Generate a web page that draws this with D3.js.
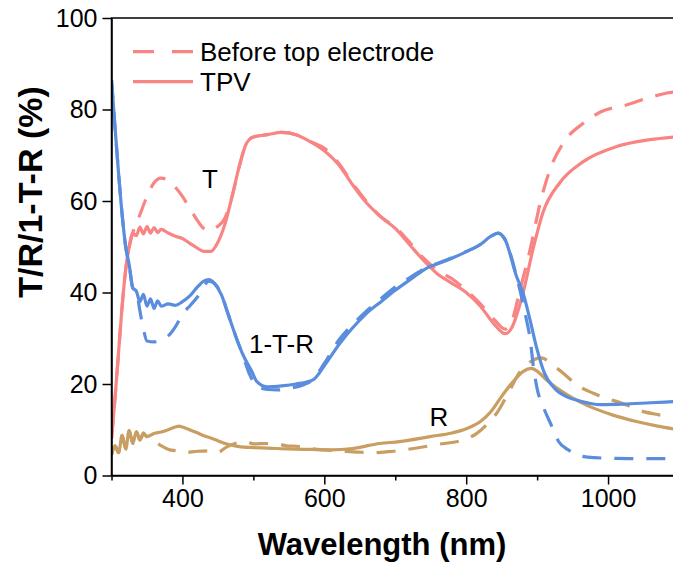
<!DOCTYPE html>
<html>
<head>
<meta charset="utf-8">
<script src="https://cdn.jsdelivr.net/npm/d3@7"></script>
<style>
  html, body { margin: 0; padding: 0; background: #fff; }
  svg { display: block; font-family: Arial, "Liberation Sans", sans-serif; }
</style>
</head>
<body>
<svg id="chart" width="673" height="566"></svg>
<script>
// ---------- data ----------
const seriesNames = ["Before top electrode", "TPV"];
const curveLabels = ["T", "1-T-R", "R"];
const xTickLabels = [400, 600, 800, 1000];
const xMinorTicks = [300, 500, 700, 900];
const yTickLabels = [0, 20, 40, 60, 80, 100];

// Transmittance, TPV (solid)
const wlT_tpv = [300,305,310,315,320,325,330,335,340,345,350,355,360,365,370,380,390,400,410,420,430,440,450,460,470,480,490,500,520,540,560,580,600,620,640,660,680,700,720,740,760,780,800,820,840,855,865,875,880,895,908,932,965,1012,1059,1100];
const T_tpv   = [8,17,27,37,45,50,53,52.4,54.3,52.8,54.4,53,54.2,53.1,53.8,53,52.3,51.8,50.8,49.8,49,49,51,55,61,67.5,72.5,74,74.5,75,74.5,73,71,68,63.5,59.5,56.5,54,50.5,47,44,42,40,37,33,31,32.5,37,39.8,50,57.4,64,68.6,71.9,73.4,74.1];
// Transmittance, before top electrode (dashed)
const wlT_bef = [300,305,310,315,320,325,330,340,350,360,370,380,390,400,410,420,430,440,450,460,470,480,490,500,520,540,560,580,600,620,640,660,680,700,720,740,760,780,800,820,840,855,865,875,890,905,918,937,965,990,1026,1060,1083,1100];
const T_bef   = [8,17,27,37,45,50,53,57,61,64,65,64.5,63,61,58.5,56,54,53.5,54.5,56.3,61,67.5,72.5,74,74.5,75,74.5,73,71.5,68.3,63.8,59.8,56.5,54.3,51,47.5,44.8,43,40.5,37.5,34,32,34,40,49.3,60,66.8,72.7,77,79.5,81,82.7,83.6,84];

// 1-T-R, TPV (solid)
const wlA_tpv = [300,305,310,315,320,325,330,335,340,345,350,355,360,365,370,380,390,400,410,420,430,437,445,455,465,475,485,497,505,519,540,560,584,600,622,640,660,680,700,720,749,760,780,796,820,835,845,855,871,880,890,900,910,925,942,960,990,1020,1060,1100];
const A_tpv   = [86.5,76,66,57,50,46,41,40.3,38,39.6,37,38.6,36.5,38.2,37,37.5,37.2,38,39.2,41,42.5,42.8,42,39.5,35,30.5,26.5,23,20.5,19.4,19.6,20,20.9,24,28.9,32.3,35.5,38,40.5,42.7,45.7,46.3,47.5,48.6,50.5,52.3,53,51.5,43.5,40,34,27.5,22.5,19,17.2,16.3,15.5,15.6,15.9,16.2];
// 1-T-R, before top electrode (dashed)
const wlA_bef = [300,305,310,315,320,325,330,335,340,345,350,360,370,380,390,401,410,425,437,445,455,465,475,485,495,505,520,533,552,570,584,600,620,640,660,680,700,720,749,760,780,796,820,835,845,855,871,885,890,895,900,910,920,930,945,960,980,1030,1100];
const A_bef   = [86.5,76,66,57,50,46,41,40.3,36,32,29.4,29.2,29.5,30.5,32.5,35.5,37,39.8,42.5,42,39.5,35,30.5,26.3,22,19.5,18.8,18.7,19.1,19.8,21,24.5,29.5,33,36,38.7,41.2,43.2,45.8,46.4,47.6,48.7,50.5,52.3,53,51.5,43.5,34,30,23.5,19,14.5,11,7.5,5.5,4.3,3.9,3.7,3.7];

// Reflectance, TPV (solid)
const wlR_tpv = [300,305,310,315,320,325,330,335,340,345,350,360,370,380,390,395,400,410,420,430,440,450,460,470,480,500,520,550,580,610,640,678,706,749,780,800,820,835,850,865,880,892,900,913,930,960,985,1007,1040,1070,1100];
const R_tpv   = [4.5,6.5,5,8.8,5.8,9.8,7,9.6,7.8,9.3,8.5,9.2,9.5,10,10.6,10.8,10.6,10,9.4,8.7,8.2,7.6,7,6.6,6.3,6.1,6,5.8,5.7,5.6,5.9,7,7.4,8.5,9.3,10.2,11.8,14,17.3,20.3,22.7,23.4,22.8,20.9,18.9,16.1,14.4,13.2,11.8,10.8,10];
// Reflectance, before top electrode (dashed)
const wlR_bef = [300,305,310,315,320,325,330,335,340,345,350,357,368,382,392,401,422,439,449,462,476,490,500,520,533,547,561,580,600,620,650,669,690,726,760,796,815,830,843,860,875,880,890,905,930,960,985,1026,1043,1073,1100];
const R_bef   = [4.5,6.5,5,8.8,5.8,9.8,7,9.6,7.8,9,8.5,7.8,6.7,5.6,5.4,5.0,5.3,5.4,5.0,6.2,7.1,7.4,6.9,7,6.9,6.5,6.4,5.9,5.6,5.4,5.1,5.0,5.2,5.9,6.8,7.8,9.2,11.3,13.6,18.2,22.5,23.5,24.8,25.7,23.2,19.4,17.6,15.4,14.3,13.2,12.4];

// ---------- drawing ----------
const svg = d3.select("#chart");
const x = d3.scaleLinear().domain([300, 1100]).range([111.5, 679]);
const y = d3.scaleLinear().domain([0, 100]).range([475.5, 18]);

const pink = "#F88484", blue = "#5B8DDE", tan = "#C89E62";
const dash = "19,13";

svg.append("defs").append("clipPath").attr("id", "clip")
  .append("rect").attr("x", x(300)).attr("y", y(100)).attr("width", x(1100) - x(300)).attr("height", y(0) - y(100));

const line = d3.line().x(d => x(d[0])).y(d => y(d[1])).curve(d3.curveMonotoneX);
const zip = (a, b) => a.map((v, i) => [v, b[i]]);

const plot = svg.append("g").attr("clip-path", "url(#clip)");
const series = [
  { wl: wlT_bef, v: T_bef, c: pink, d: true },
  { wl: wlT_tpv, v: T_tpv, c: pink, d: false },
  { wl: wlR_bef, v: R_bef, c: tan, d: true },
  { wl: wlR_tpv, v: R_tpv, c: tan, d: false },
  { wl: wlA_bef, v: A_bef, c: blue, d: true },
  { wl: wlA_tpv, v: A_tpv, c: blue, d: false }
];
series.forEach(s => {
  plot.append("path")
    .attr("d", line(zip(s.wl, s.v)))
    .attr("fill", "none")
    .attr("stroke", s.c)
    .attr("stroke-width", 3.2)
    .attr("stroke-linejoin", "round")
    .attr("stroke-dasharray", s.d ? dash : null);
});

// frame (top line; right edge lies outside the canvas)
svg.append("rect")
  .attr("x", x(300)).attr("y", y(100))
  .attr("width", x(1100) - x(300)).attr("height", y(0) - y(100))
  .attr("fill", "none").attr("stroke", "#000").attr("stroke-width", 1.5);

// axes
const tickFont = 25, textFont = 26;
const yAxis = svg.append("g").attr("transform", `translate(${x(300)},0)`)
  .call(d3.axisLeft(y).tickValues(yTickLabels).tickSize(9).tickSizeOuter(0).tickPadding(5));
const xAxis = svg.append("g").attr("transform", `translate(0,${y(0)})`)
  .call(d3.axisBottom(x).tickValues(xTickLabels).tickSize(9).tickSizeOuter(0).tickPadding(5).tickFormat(d3.format("d")));
const xMinor = svg.append("g").attr("transform", `translate(0,${y(0)})`)
  .call(d3.axisBottom(x).tickValues(xMinorTicks).tickSize(5).tickSizeOuter(0).tickFormat(""));
xMinor.select(".domain").remove();
[yAxis, xAxis, xMinor].forEach(g => {
  g.selectAll("path, line").attr("stroke", "#000").attr("stroke-width", 1.5);
  g.selectAll("text").attr("font-size", tickFont).attr("fill", "#000")
    .attr("font-family", "Arial, 'Liberation Sans', sans-serif");
});

// axis titles
svg.append("text")
  .attr("x", 382).attr("y", 555)
  .attr("text-anchor", "middle").attr("font-size", 31).attr("font-weight", "bold")
  .text("Wavelength (nm)");
svg.append("text")
  .attr("transform", "translate(42,192) rotate(-90)")
  .attr("text-anchor", "middle").attr("font-size", 34).attr("font-weight", "bold")
  .text("T/R/1-T-R (%)");

// legend
const leg = svg.append("g");
[[seriesNames[0], true, 51.7], [seriesNames[1], false, 81.7]].forEach(([name, d, yy]) => {
  leg.append("line").attr("x1", 133).attr("x2", 193).attr("y1", yy).attr("y2", yy)
    .attr("stroke", pink).attr("stroke-width", 3.2)
    .attr("stroke-dasharray", d ? "21,18" : null);
  leg.append("text").attr("x", 200).attr("y", yy + 9)
    .attr("font-size", textFont).attr("fill", "#000").text(name);
});

// curve labels
const lbl = [[curveLabels[0], 210, 188], [curveLabels[1], 281.5, 352.5], [curveLabels[2], 439, 426]];
lbl.forEach(([t, xx, yy]) => {
  svg.append("text").attr("x", xx).attr("y", yy).attr("text-anchor", "middle")
    .attr("font-size", textFont).attr("fill", "#000").text(t);
});
</script>
</body>
</html>
